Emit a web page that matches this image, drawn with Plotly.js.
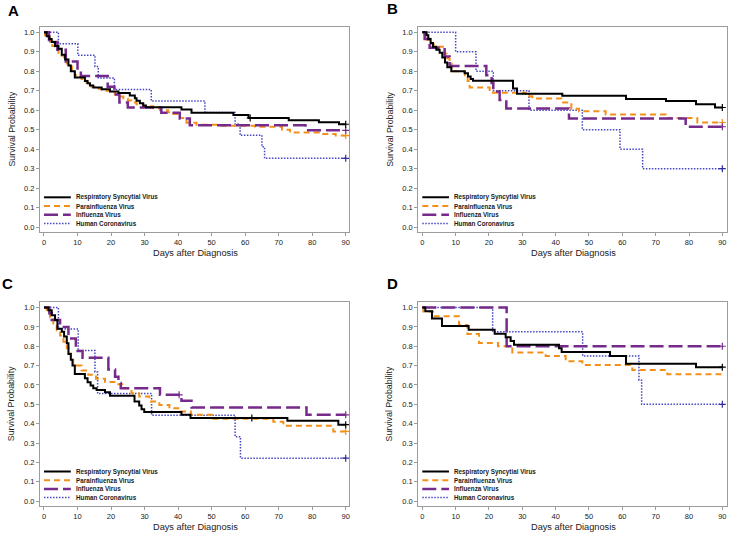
<!DOCTYPE html>
<html>
<head>
<meta charset="utf-8">
<script src="https://cdn.plot.ly/plotly-3.0.1.min.js"></script>
<style>
html,body{margin:0;padding:0;background:#fff;}
#chart{width:729px;height:535px;}
</style>
</head>
<body>
<div id="chart"></div>
<script>
// ---------------- DATA ----------------
const SERIES_NAMES = ['Respiratory Syncytial Virus', 'Parainfluenza Virus', 'Influenza Virus', 'Human Coronavirus'];
const PANEL_LABELS = ['A', 'B', 'C', 'D'];
const X_TICKS = [0, 10, 20, 30, 40, 50, 60, 70, 80, 90];
const Y_TICKS = [0.0, 0.1, 0.2, 0.3, 0.4, 0.5, 0.6, 0.7, 0.8, 0.9, 1.0];
const X_TITLE = 'Days after Diagnosis';
const Y_TITLE = 'Survival Probability';
const END_DAY = 90;

// Panel A
const A_RSV_DAYS = [0, 0.8, 1.6, 2.3, 3.3, 4.3, 5.3, 6.3, 7.3, 8, 9.2, 12.2, 13, 13.7, 14.7, 17.2, 19.7, 22.2, 25.6, 27.1, 27.6, 28.6, 29.6, 30.4, 41, 44, 56.5, 61, 73, 82, 88];
const A_RSV_SURV = [1, 0.98, 0.965, 0.95, 0.93, 0.916, 0.885, 0.86, 0.83, 0.80, 0.768, 0.75, 0.738, 0.727, 0.717, 0.708, 0.696, 0.688, 0.676, 0.662, 0.648, 0.636, 0.624, 0.615, 0.604, 0.587, 0.575, 0.56, 0.549, 0.538, 0.528];
const A_RSV_CENSOR = [61.5, 90];
const A_PIV_DAYS = [0, 0.3, 1, 1.8, 2.5, 3.3, 4.3, 5.3, 6, 6.8, 7.5, 8.3, 9.2, 10, 11.2, 12.7, 14.2, 15.5, 17.2, 19.7, 21.2, 22.5, 23.7, 25, 26.1, 27.6, 29.6, 32.6, 34.6, 37, 38.6, 40.6, 42.5, 45.5, 51.5, 63, 71, 73.4, 82, 87];
const A_PIV_SURV = [1, 0.985, 0.97, 0.95, 0.93, 0.91, 0.895, 0.88, 0.86, 0.84, 0.825, 0.81, 0.78, 0.77, 0.76, 0.74, 0.72, 0.71, 0.70, 0.69, 0.68, 0.67, 0.66, 0.65, 0.64, 0.63, 0.62, 0.61, 0.60, 0.59, 0.58, 0.56, 0.535, 0.525, 0.52, 0.515, 0.50, 0.485, 0.478, 0.47];
const A_PIV_CENSOR = [90];
const A_FLU_DAYS = [0, 1.5, 4, 6.5, 10, 11, 19, 21, 22.5, 25, 35, 40.5, 43.5, 78];
const A_FLU_SURV = [1, 0.95, 0.91, 0.85, 0.80, 0.775, 0.72, 0.68, 0.64, 0.614, 0.587, 0.557, 0.523, 0.497];
const A_FLU_CENSOR = [90];
const A_HCOV_DAYS = [0, 4.3, 10.1, 15.2, 16.2, 21, 32, 48, 57, 58.5, 65, 65.8];
const A_HCOV_SURV = [1, 0.941, 0.882, 0.824, 0.765, 0.706, 0.647, 0.588, 0.529, 0.471, 0.412, 0.353];
const A_HCOV_CENSOR = [90];

// Panel B
const B_RSV_DAYS = [0, 1.3, 1.8, 2.5, 3.2, 4.2, 5.2, 6, 6.8, 7.5, 8.7, 12.7, 13.7, 14.5, 15.2, 27.2, 28.4, 42, 61.1, 73.1, 82.1, 87.8];
const B_RSV_SURV = [1, 0.985, 0.966, 0.945, 0.926, 0.91, 0.895, 0.87, 0.845, 0.82, 0.80, 0.79, 0.773, 0.76, 0.751, 0.712, 0.685, 0.674, 0.657, 0.647, 0.63, 0.614];
const B_RSV_CENSOR = [90];
const B_PIV_DAYS = [0, 0.7, 1.5, 2.5, 3.4, 6.7, 7.3, 8.2, 8.8, 12.8, 13.6, 14.2, 20.2, 31, 33, 41.7, 44.7, 47, 55, 73, 82.5];
const B_PIV_SURV = [1, 0.98, 0.96, 0.94, 0.926, 0.89, 0.866, 0.84, 0.80, 0.78, 0.75, 0.717, 0.69, 0.671, 0.66, 0.64, 0.607, 0.595, 0.578, 0.56, 0.537];
const B_PIV_CENSOR = [90];
const B_FLU_DAYS = [0, 0.7, 2.2, 6.7, 8.2, 19.2, 20.8, 21.3, 23.2, 25.2, 44, 79];
const B_FLU_SURV = [1, 0.966, 0.92, 0.875, 0.827, 0.78, 0.739, 0.696, 0.652, 0.609, 0.557, 0.515];
const B_FLU_CENSOR = [90];
const B_HCOV_DAYS = [0, 10, 16.1, 21.3, 32, 48, 59.3, 66.1];
const B_HCOV_SURV = [1, 0.9, 0.8, 0.7, 0.6, 0.5, 0.4, 0.3];
const B_HCOV_CENSOR = [90];

// Panel C
const C_RSV_DAYS = [0, 1.3, 2.3, 3.3, 4, 5.3, 6, 6.8, 7.3, 8, 8.5, 9.2, 12.2, 13, 13.9, 14.7, 15.7, 18.2, 19.7, 27, 28.4, 29.1, 29.9, 41, 43.7, 72.6, 87.8];
const C_RSV_SURV = [1, 0.986, 0.96, 0.935, 0.89, 0.875, 0.85, 0.815, 0.76, 0.73, 0.70, 0.657, 0.635, 0.614, 0.597, 0.583, 0.574, 0.563, 0.544, 0.515, 0.494, 0.475, 0.461, 0.446, 0.43, 0.415, 0.395];
const C_RSV_CENSOR = [62, 90];
const C_PIV_DAYS = [0, 0.8, 1.8, 2.8, 3.8, 4.8, 5.8, 6.8, 7.3, 8, 8.7, 11.2, 13.2, 15.5, 18.2, 21.5, 23.9, 26.1, 28.4, 31.4, 34.4, 37.4, 40.9, 43.8, 50.5, 68.4, 71.4, 86.3];
const C_PIV_SURV = [1, 0.978, 0.95, 0.918, 0.883, 0.855, 0.823, 0.79, 0.763, 0.73, 0.70, 0.675, 0.653, 0.632, 0.615, 0.604, 0.583, 0.557, 0.54, 0.515, 0.497, 0.48, 0.463, 0.446, 0.425, 0.41, 0.39, 0.36];
const C_PIV_CENSOR = [90];
const C_FLU_DAYS = [0, 1.6, 2.3, 4.8, 7.3, 9.5, 11.5, 19.2, 21.2, 22.2, 22.9, 34.6, 41, 44, 78.3];
const C_FLU_SURV = [1, 0.97, 0.935, 0.90, 0.84, 0.775, 0.74, 0.68, 0.643, 0.61, 0.583, 0.549, 0.518, 0.484, 0.446];
const C_FLU_CENSOR = [40.3, 90];
const C_HCOV_DAYS = [0, 4.3, 10.2, 15.2, 16, 32.1, 57, 58.6];
const C_HCOV_SURV = [1, 0.889, 0.778, 0.667, 0.556, 0.444, 0.333, 0.222];
const C_HCOV_CENSOR = [90];

// Panel D
const D_RSV_DAYS = [0, 0.9, 2.9, 5.9, 13.9, 21.7, 25, 26.5, 27.5, 41, 41.8, 56.3, 61.1, 82.1];
const D_RSV_SURV = [1, 0.981, 0.943, 0.904, 0.885, 0.865, 0.846, 0.827, 0.808, 0.79, 0.77, 0.75, 0.71, 0.692];
const D_RSV_CENSOR = [90];
const D_PIV_DAYS = [0, 0.3, 3.2, 11, 13.5, 17, 22.7, 27, 37, 43, 48, 63, 73.5];
const D_PIV_SURV = [1, 0.98, 0.955, 0.91, 0.863, 0.817, 0.80, 0.768, 0.75, 0.722, 0.703, 0.677, 0.655];
const D_PIV_CENSOR = [];
const D_FLU_DAYS = [0, 25.3];
const D_FLU_SURV = [1, 0.80];
const D_FLU_CENSOR = [90];
const D_HCOV_DAYS = [0, 21.1, 48.1, 65, 65.8];
const D_HCOV_SURV = [1, 0.875, 0.75, 0.625, 0.50];
const D_HCOV_CENSOR = [90];

// ---------------- STYLE ----------------
const FONT = 'Arial, "Liberation Sans", sans-serif';
const STYLES = [
  {color: '#000000', width: 2, dash: 'solid', mark: '#000000'},
  {color: '#F39019', width: 2, dash: '6px,4px', mark: '#F39019'},
  {color: '#762A8C', width: 2.5, dash: '14px,5px', mark: '#762A8C'},
  {color: '#4646C4', width: 1.5, dash: '1.5px,1.5px', mark: '#2E2EA0'}
];
const DRAW_ORDER = [3, 1, 2, 0];
const PANEL_DATA = {
  A: [[A_RSV_DAYS, A_RSV_SURV, A_RSV_CENSOR], [A_PIV_DAYS, A_PIV_SURV, A_PIV_CENSOR], [A_FLU_DAYS, A_FLU_SURV, A_FLU_CENSOR], [A_HCOV_DAYS, A_HCOV_SURV, A_HCOV_CENSOR]],
  B: [[B_RSV_DAYS, B_RSV_SURV, B_RSV_CENSOR], [B_PIV_DAYS, B_PIV_SURV, B_PIV_CENSOR], [B_FLU_DAYS, B_FLU_SURV, B_FLU_CENSOR], [B_HCOV_DAYS, B_HCOV_SURV, B_HCOV_CENSOR]],
  C: [[C_RSV_DAYS, C_RSV_SURV, C_RSV_CENSOR], [C_PIV_DAYS, C_PIV_SURV, C_PIV_CENSOR], [C_FLU_DAYS, C_FLU_SURV, C_FLU_CENSOR], [C_HCOV_DAYS, C_HCOV_SURV, C_HCOV_CENSOR]],
  D: [[D_RSV_DAYS, D_RSV_SURV, D_RSV_CENSOR], [D_PIV_DAYS, D_PIV_SURV, D_PIV_CENSOR], [D_FLU_DAYS, D_FLU_SURV, D_FLU_CENSOR], [D_HCOV_DAYS, D_HCOV_SURV, D_HCOV_CENSOR]]
};

// ---------------- LAYOUT (pixels) ----------------
const W = 729, H = 535;
const BOXES = {
  A: {l: 40, r: 349, t: 27, b: 232, xr: [-1.19, 90.98]},
  B: {l: 418.3, r: 727, t: 27, b: 232, xr: [-1.2, 91.4]},
  C: {l: 40, r: 349, t: 302.3, b: 506, xr: [-1.19, 90.98]},
  D: {l: 418.3, r: 727, t: 302.3, b: 506, xr: [-1.2, 91.4]}
};
const LETTER_POS = {A: [13, 10], B: [392, 9], C: [7, 283], D: [392, 283]};
const Y_RANGE = [-0.025, 1.027];

function survAt(days, surv, t) {
  let v = surv[0];
  for (let i = 0; i < days.length; i++) if (days[i] <= t) v = surv[i];
  return v;
}

const traces = [];
const layout = {
  width: W, height: H,
  margin: {l: 0, r: 0, t: 0, b: 0},
  paper_bgcolor: '#ffffff', plot_bgcolor: '#ffffff',
  showlegend: false,
  font: {family: FONT, color: '#1a1a1a'},
  annotations: [], shapes: []
};

PANEL_LABELS.forEach((p, k) => {
  const idx = k === 0 ? '' : String(k + 1);
  const xa = 'x' + idx, ya = 'y' + idx;
  const box = BOXES[p];
  const axCommon = {
    showline: true, mirror: true, linecolor: '#9c9c9c', linewidth: 1,
    ticks: 'outside', ticklen: 3, tickwidth: 1, tickcolor: '#9c9c9c',
    showgrid: false, zeroline: false, fixedrange: true,
    tickfont: {family: FONT, size: 7.5, color: '#1a1a1a'}
  };
  layout['xaxis' + idx] = Object.assign({}, axCommon, {
    domain: [box.l / W, box.r / W], range: box.xr, anchor: ya,
    tickmode: 'array', tickvals: X_TICKS, ticktext: X_TICKS.map(String)
  });
  layout['yaxis' + idx] = Object.assign({}, axCommon, {
    domain: [1 - box.b / H, 1 - box.t / H], range: Y_RANGE, anchor: xa,
    tickmode: 'array', tickvals: Y_TICKS, ticktext: Y_TICKS.map(v => v.toFixed(1))
  });

  DRAW_ORDER.forEach(s => {
    const [days, surv, cens] = PANEL_DATA[p][s];
    const st = STYLES[s];
    traces.push({
      type: 'scatter', mode: 'lines', xaxis: xa, yaxis: ya,
      x: days.concat([END_DAY]), y: surv.concat([surv[surv.length - 1]]),
      line: {shape: 'hv', color: st.color, width: st.width, dash: st.dash},
      name: SERIES_NAMES[s], hoverinfo: 'skip'
    });
    if (cens.length) {
      traces.push({
        type: 'scatter', mode: 'markers', xaxis: xa, yaxis: ya,
        x: cens, y: cens.map(t => survAt(days, surv, t)),
        marker: {symbol: 'cross-thin-open', size: 5, color: st.mark, line: {color: st.mark, width: 1.2}},
        hoverinfo: 'skip', showlegend: false
      });
    }
  });

  // Legend (inside lower left), in data coordinates of the panel
  const LEG_Y = [0.153, 0.108, 0.063, 0.019];
  SERIES_NAMES.forEach((name, s) => {
    const st = STYLES[s];
    layout.shapes.push({
      type: 'line', xref: xa, yref: ya, x0: 0, x1: 8, y0: LEG_Y[s], y1: LEG_Y[s],
      line: {color: st.color, width: st.width, dash: st.dash}
    });
    layout.annotations.push({
      xref: xa, yref: ya, x: 9.0, y: LEG_Y[s], xanchor: 'left', yanchor: 'middle',
      text: '<b>' + name + '</b>', showarrow: false,
      font: {family: FONT, size: 6.3, color: '#1a1a1a'}
    });
  });

  // Axis titles
  layout.annotations.push({
    xref: 'paper', yref: 'paper',
    x: ((box.l + box.r) / 2 + 1) / W, y: 1 - (box.b + 21) / H,
    xanchor: 'center', yanchor: 'middle', showarrow: false,
    text: X_TITLE, font: {family: FONT, size: 9.2, color: '#1a1a1a'}
  });
  layout.annotations.push({
    xref: 'paper', yref: 'paper',
    x: (box.l - 29) / W, y: 1 - ((box.t + box.b) / 2) / H,
    xanchor: 'center', yanchor: 'middle', showarrow: false, textangle: -90,
    text: Y_TITLE, font: {family: FONT, size: 8.8, color: '#1a1a1a'}
  });
  // Panel letter
  layout.annotations.push({
    xref: 'paper', yref: 'paper',
    x: LETTER_POS[p][0] / W, y: 1 - LETTER_POS[p][1] / H,
    xanchor: 'center', yanchor: 'middle', showarrow: false,
    text: '<b>' + p + '</b>', font: {family: FONT, size: 15, color: '#000'}
  });
});

Plotly.newPlot('chart', traces, layout, {staticPlot: true, displayModeBar: false});
</script>
</body>
</html>
